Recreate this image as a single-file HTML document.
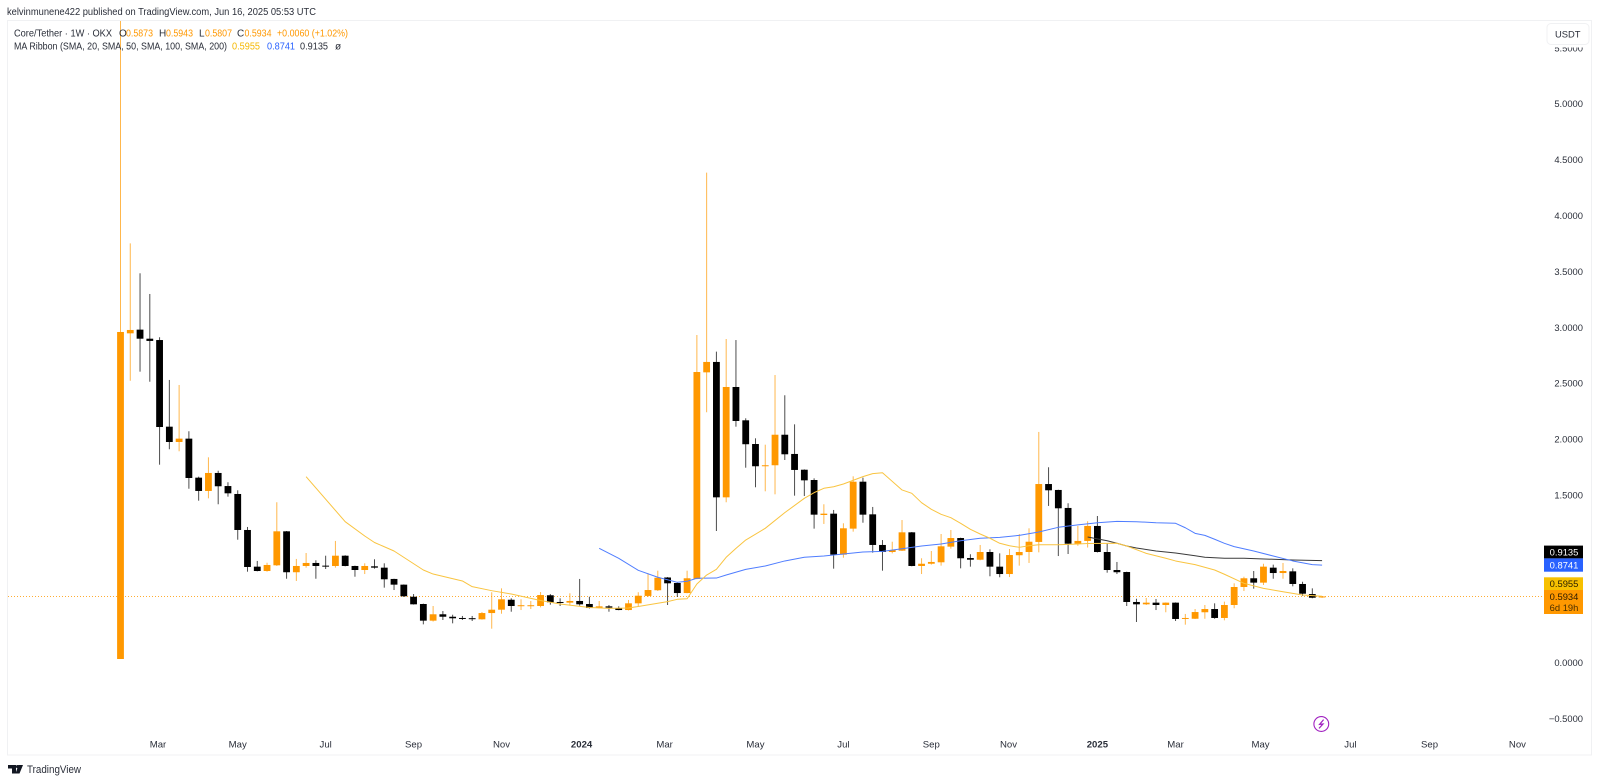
<!DOCTYPE html>
<html lang="en">
<head>
<meta charset="utf-8">
<title>Core/Tether 1W chart</title>
<style>
html,body{margin:0;padding:0;background:#fff;width:1600px;height:783px;overflow:hidden}
svg{display:block;font-family:"Liberation Sans",Arial,sans-serif}
text{fill:#2a2e39}
</style>
</head>
<body>
<svg id="chart" xmlns="http://www.w3.org/2000/svg" width="1600" height="783" viewBox="0 0 1600 783">
  <defs>
    <clipPath id="pane-clip"><rect x="8" y="21" width="1536" height="733"></rect></clipPath>
  </defs>
  <rect x="0" y="0" width="1600" height="783" fill="#ffffff"></rect>
  <text x="7" y="15" font-size="10" textLength="309" lengthAdjust="spacingAndGlyphs" fill="#3a3e49">kelvinmunene422 published on TradingView.com, Jun 16, 2025 05:53 UTC</text>
  <rect x="7.5" y="20.5" width="1584" height="734.5" fill="#ffffff" stroke="#f0f1f3" stroke-width="1"></rect>

  <g id="y-axis"></g>
  <g id="x-axis"></g>

  <line id="last-price-line" x1="8" x2="1544" stroke="#ff9800" stroke-opacity="0.8" stroke-width="1" stroke-dasharray="1 2"></line>
  <g id="candles" clip-path="url(#pane-clip)"></g>
  <g id="ma-lines" clip-path="url(#pane-clip)"></g>

  <g>
    <rect x="1545" y="22" width="46" height="25.5" fill="#ffffff"></rect>
    <rect x="1547" y="23.5" width="42" height="21" rx="4" fill="#ffffff" stroke="#f0f1f3"></rect>
    <text x="1555" y="37.4" font-size="9.4">USDT</text>
  </g>

  <g font-size="10">
    <text x="14" y="36.3" textLength="98" lengthAdjust="spacingAndGlyphs">Core/Tether · 1W · OKX</text>
    <text x="119" y="36.3">O</text>
    <text x="126" y="36.3" textLength="27" lengthAdjust="spacingAndGlyphs" style="fill:#ff9800">0.5873</text>
    <text x="159" y="36.3">H</text>
    <text x="166" y="36.3" textLength="27" lengthAdjust="spacingAndGlyphs" style="fill:#ff9800">0.5943</text>
    <text x="199" y="36.3">L</text>
    <text x="205" y="36.3" textLength="27" lengthAdjust="spacingAndGlyphs" style="fill:#ff9800">0.5807</text>
    <text x="237" y="36.3">C</text>
    <text x="244.5" y="36.3" textLength="27" lengthAdjust="spacingAndGlyphs" style="fill:#ff9800">0.5934</text>
    <text x="277" y="36.3" textLength="71" lengthAdjust="spacingAndGlyphs" style="fill:#ff9800">+0.0060 (+1.02%)</text>
    <text x="14" y="49.6" textLength="213" lengthAdjust="spacingAndGlyphs">MA Ribbon (SMA, 20, SMA, 50, SMA, 100, SMA, 200)</text>
    <text x="232" y="49.6" textLength="28" lengthAdjust="spacingAndGlyphs" style="fill:#f5b800">0.5955</text>
    <text x="267" y="49.6" textLength="28" lengthAdjust="spacingAndGlyphs" style="fill:#2962ff">0.8741</text>
    <text x="300" y="49.6" textLength="28" lengthAdjust="spacingAndGlyphs">0.9135</text>
    <text x="335" y="49.6">ø</text>
  </g>

  <g font-size="9.4" text-anchor="middle">
    <rect x="1544" y="545.6" width="39" height="12.8" fill="#000000"></rect>
    <text x="1564" y="555.4" style="fill:#ffffff">0.9135</text>
    <rect x="1544" y="558.4" width="39" height="13.3" fill="#2962ff"></rect>
    <text x="1564" y="568.4" style="fill:#ffffff">0.8741</text>
    <rect x="1544" y="577.3" width="39" height="12.7" fill="#f7c000"></rect>
    <text x="1564" y="587" style="fill:#2a2000">0.5955</text>
    <rect x="1544" y="590" width="39" height="24" fill="#ff9800"></rect>
    <text x="1564" y="600" style="fill:#2a1a00">0.5934</text>
    <text x="1564" y="611" style="fill:#4a3000">6d 19h</text>
  </g>

  <g>
    <circle cx="1321.3" cy="724" r="7.4" fill="#ffffff" stroke="#a020c0" stroke-width="1.1"></circle>
    <path d="M1323.6 719.6 L1319.6 724.4 L1323 724 L1319 728.4" fill="none" stroke="#a020c0" stroke-width="1.2"></path>
  </g>

  <g>
    <path d="M8 765 H16 V773.5 H12 V768.5 H8 Z M18.5 765 H23 L19.5 773.5 H15.5 Z" fill="#131722"></path>
    <circle cx="17.6" cy="766.6" r="1.6" fill="#131722"></circle>
    <text x="27" y="773" font-size="11" textLength="54" lengthAdjust="spacingAndGlyphs" fill="#444">TradingView</text>
  </g>
</svg>

<script>
/* Weekly candles, in USDT */
const opens = [0.034,2.947,2.980,2.899,2.887,2.112,1.975,2.005,1.656,1.537,
1.698,1.581,1.510,1.188,0.860,0.821,0.872,1.176,0.810,0.866,
0.893,0.869,0.866,0.958,0.866,0.830,0.863,0.851,0.750,0.699,
0.591,0.526,0.377,0.434,0.412,0.401,0.399,0.389,0.445,0.475,
0.564,0.508,0.508,0.508,0.604,0.544,0.538,0.553,0.526,0.490,
0.505,0.490,0.472,0.532,0.598,0.649,0.763,0.714,0.624,0.750,
2.598,2.691,1.480,2.467,2.169,1.957,1.758,1.767,2.040,1.868,
1.727,1.635,1.322,1.334,0.967,1.200,1.620,1.328,1.054,0.991,
1.003,1.167,0.866,0.886,0.899,1.039,1.116,0.937,0.922,0.991,
0.860,0.794,0.962,0.991,1.081,1.599,1.546,1.385,1.065,1.090,
1.224,0.991,0.830,0.812,0.544,0.523,0.538,0.517,0.538,0.395,
0.394,0.452,0.481,0.401,0.517,0.678,0.756,0.717,0.851,0.803,
0.818,0.705,0.615,0.5873];
const closes = [2.959,2.977,2.899,2.879,2.109,1.975,2.005,1.653,1.537,1.698,
1.579,1.516,1.188,0.857,0.821,0.875,1.176,0.810,0.866,0.893,
0.866,0.863,0.958,0.866,0.830,0.866,0.851,0.747,0.699,0.595,
0.523,0.377,0.434,0.412,0.398,0.395,0.394,0.445,0.475,0.568,
0.508,0.515,0.515,0.606,0.541,0.538,0.553,0.523,0.490,0.505,
0.493,0.472,0.532,0.600,0.651,0.761,0.711,0.624,0.756,2.601,
2.691,1.480,2.467,2.163,1.955,1.758,1.767,2.040,1.865,1.725,
1.632,1.325,1.334,0.967,1.203,1.620,1.325,1.054,0.991,1.009,
1.167,0.866,0.886,0.902,1.042,1.116,0.935,0.922,0.991,0.860,
0.794,0.964,0.991,1.083,1.599,1.543,1.382,1.065,1.090,1.224,
0.991,0.830,0.810,0.544,0.523,0.538,0.517,0.538,0.392,0.401,
0.454,0.481,0.401,0.517,0.678,0.756,0.717,0.860,0.803,0.821,
0.705,0.618,0.582,0.5934];
const highs = [6.5,3.752,3.484,3.299,2.912,2.530,2.485,2.071,1.665,1.838,
1.718,1.615,1.543,1.215,0.911,0.895,1.436,1.179,0.929,0.982,
0.917,0.958,1.090,0.962,0.869,0.890,0.926,0.890,0.752,0.701,
0.615,0.529,0.508,0.463,0.430,0.419,0.419,0.454,0.631,0.666,
0.577,0.568,0.553,0.633,0.615,0.577,0.622,0.750,0.591,0.553,
0.517,0.505,0.562,0.631,0.801,0.824,0.767,0.717,0.824,2.932,
4.384,2.783,2.896,2.887,2.187,2.008,1.951,2.574,2.393,2.133,
1.730,1.650,1.418,1.367,1.248,1.668,1.656,1.394,1.098,1.083,
1.277,1.170,0.935,1.000,1.152,1.188,1.119,0.971,1.054,1.015,
0.979,1.018,1.152,1.203,2.065,1.749,1.548,1.427,1.224,1.266,
1.313,1.069,0.902,0.815,0.573,0.580,0.571,0.540,0.540,0.437,
0.481,0.517,0.532,0.547,0.711,0.770,0.821,0.886,0.878,0.893,
0.845,0.725,0.666,0.5943];
const lows = [0.034,2.523,2.604,2.514,1.772,1.910,1.892,1.557,1.450,1.471,
1.418,1.486,1.101,0.815,0.818,0.815,0.866,0.752,0.732,0.851,
0.752,0.839,0.851,0.863,0.770,0.794,0.842,0.672,0.651,0.589,
0.521,0.344,0.369,0.383,0.353,0.383,0.374,0.386,0.305,0.439,
0.457,0.472,0.481,0.496,0.520,0.508,0.511,0.511,0.486,0.486,
0.457,0.470,0.468,0.505,0.589,0.642,0.517,0.589,0.622,0.747,
2.241,1.179,1.436,2.112,1.745,1.570,1.534,1.507,1.814,1.495,
1.492,1.200,1.242,0.842,0.940,1.173,1.253,0.985,0.824,0.979,
1.000,0.863,0.794,0.878,0.869,1.021,0.845,0.860,0.917,0.774,
0.765,0.767,0.869,0.893,0.988,1.403,0.955,0.973,1.047,1.031,
0.987,0.806,0.794,0.508,0.365,0.517,0.472,0.452,0.374,0.341,
0.392,0.394,0.394,0.380,0.488,0.642,0.663,0.696,0.752,0.752,
0.684,0.598,0.577,0.5807];

/* Moving averages: week number and value read at each vertex */
const ma20Weeks = [19,23,25,26,28,31,32,35,36,38,40,43,45,48,50,52,53,56,57,58,59,60,61,62,63,64,66,68,70,71,72,73,74,76,77,78,80,81,82,83,84,85,86,87,88,89,90,91,92,93,94,96,98,99,102,103,105,107,108,110,112,113,115,117,119,121,123];
const ma20Values = [1.665,1.262,1.134,1.076,1.000,0.830,0.794,0.732,0.681,0.645,0.615,0.557,0.526,0.495,0.487,0.490,0.504,0.547,0.568,0.573,0.705,0.785,0.836,0.944,1.024,1.098,1.203,1.343,1.471,1.522,1.561,1.575,1.599,1.665,1.692,1.700,1.546,1.516,1.432,1.373,1.328,1.298,1.248,1.194,1.152,1.114,1.069,1.047,1.033,1.047,1.056,1.056,1.063,1.067,1.069,1.045,0.979,0.935,0.911,0.878,0.830,0.792,0.711,0.666,0.636,0.606,0.5955];
const ma50Weeks = [49,51,53,55,57,58,59,61,62,64,66,68,70,72,74,76,78,80,82,84,86,88,90,92,94,96,98,100,102,104,106,108,109,110,111,112,113,114,116,118,120,122,123];
const ma50Values = [1.024,0.935,0.827,0.765,0.720,0.729,0.756,0.758,0.785,0.836,0.866,0.911,0.944,0.955,0.973,0.991,0.997,1.020,1.045,1.063,1.092,1.114,1.122,1.140,1.170,1.212,1.234,1.253,1.265,1.262,1.253,1.248,1.208,1.158,1.140,1.105,1.069,1.039,1.000,0.955,0.911,0.878,0.8741];
const ma100Weeks = [99,101,102,103,104,106,108,110,111,113,115,118,120,123];
const ma100Values = [1.125,1.092,1.069,1.045,1.027,1.000,0.982,0.958,0.944,0.935,0.935,0.926,0.919,0.9135];

/* Axis labels */
const priceTicks = [5.5,5,4.5,4,3.5,3,2.5,2,1.5,1,0.5,0,-0.5];
const timeTickLabels = ["Mar","May","Jul","Sep","Nov","2024","Mar","May","Jul","Sep","Nov","2025","Mar","May","Jul","Sep","Nov"];
const timeTickWeeks = [3.84,12,21,30,39,47.2,55.7,65,74,83,90.9,100,108,116.7,125.9,134,143];
const lastPrice = 0.5934;

const SVG_NS = "http://www.w3.org/2000/svg";
function xScale(week){ return 120.5 + 9.769 * week; }
function yScale(price){ return 662.8 - 111.8 * price; }

const UP = "#ff9800", DOWN = "#000000";
const candleLayer = document.getElementById("candles");
opens.forEach(function(open, i){
  const close = closes[i];
  const color = close >= open ? UP : DOWN;
  const x = xScale(i);
  const wick = document.createElementNS(SVG_NS, "line");
  
  
  wick.setAttribute("x1", x);
  wick.setAttribute("x2", x);
  wick.setAttribute("y1", yScale(highs[i]));
  wick.setAttribute("y2", yScale(lows[i]));
  wick.setAttribute("stroke", color);
  wick.setAttribute("stroke-opacity", "0.7");
  wick.setAttribute("stroke-width", "1");
  candleLayer.appendChild(wick);
  const body = document.createElementNS(SVG_NS, "rect");
  const top = yScale(Math.max(open, close));
  const bottom = yScale(Math.min(open, close));
  
  
  body.setAttribute("x", x - 3.4);
  body.setAttribute("width", 6.8);
  body.setAttribute("y", top);
  body.setAttribute("height", Math.max(bottom - top, 1));
  body.setAttribute("fill", color);
  candleLayer.appendChild(body);
});

function drawLine(weeks, values, color, label){
  const line = document.createElementNS(SVG_NS, "polyline");
  const pts = weeks.map(function(w, k){ return xScale(w).toFixed(2) + "," + yScale(values[k]).toFixed(2); });
  
  
  line.setAttribute("points", pts.join(" "));
  line.setAttribute("fill", "none");
  line.setAttribute("stroke", color);
  line.setAttribute("stroke-width", "1");
  line.setAttribute("stroke-linejoin", "round");
  document.getElementById("ma-lines").appendChild(line);
}
drawLine(ma100Weeks, ma100Values, "#3a3a3a", "ma-100-line");
drawLine(ma50Weeks, ma50Values, "#4f7dff", "ma-50-line");
drawLine(ma20Weeks, ma20Values, "#f9c440", "ma-20-line");

const lastLine = document.getElementById("last-price-line");
lastLine.setAttribute("y1", yScale(lastPrice));
lastLine.setAttribute("y2", yScale(lastPrice));

const yAxis = document.getElementById("y-axis");
priceTicks.forEach(function(p){
  const t = document.createElementNS(SVG_NS, "text");
  
  
  t.setAttribute("x", 1583);
  t.setAttribute("y", yScale(p) + 3.4);
  t.setAttribute("text-anchor", "end");
  t.setAttribute("font-size", "9.4");
  t.textContent = (p < 0 ? "\u2212" : "") + Math.abs(p).toFixed(4);
  yAxis.appendChild(t);
});

const xAxis = document.getElementById("x-axis");
timeTickLabels.forEach(function(label, i){
  const t = document.createElementNS(SVG_NS, "text");
  
  
  t.setAttribute("x", xScale(timeTickWeeks[i]));
  t.setAttribute("y", 747.4);
  t.setAttribute("text-anchor", "middle");
  t.setAttribute("font-size", "9.6");
  if (/^\d+$/.test(label)) t.setAttribute("font-weight", "bold");
  t.textContent = label;
  xAxis.appendChild(t);
});
</script>
</body>
</html>
